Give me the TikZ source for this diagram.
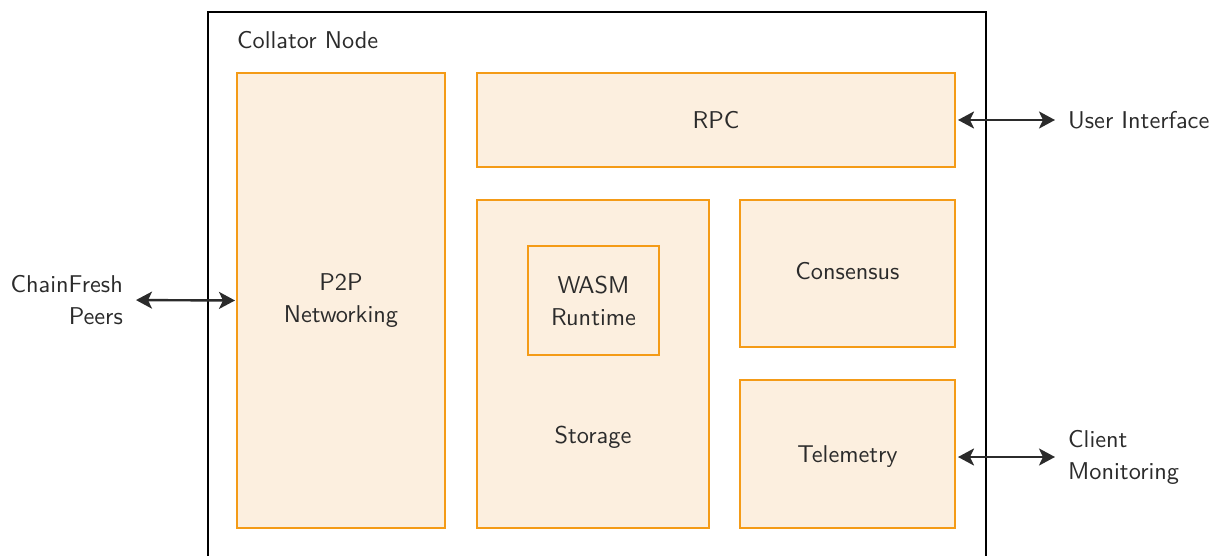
\documentclass[tikz,border=0pt]{standalone}
\usepackage{fontspec}
\newfontfamily\diagfont{lmsans10-regular.otf}
\usetikzlibrary{arrows.meta}
\definecolor{boxfill}{HTML}{FCEFDF}
\definecolor{boxline}{HTML}{F49B17}
\definecolor{ink}{HTML}{2B2B2B}
\begin{document}
\begin{tikzpicture}[x=1pt,y=-1pt,
  every node/.style={font=\diagfont\fontsize{24.3}{32}\selectfont, text=ink},
  part/.style={draw=boxline, fill=boxfill, line width=2pt, inner sep=0pt, align=center},
  caption/.style={inner sep=0pt, align=#1},
  link/.style={{Stealth[length=16pt,width=17pt,inset=4pt]}-{Stealth[length=16pt,width=17pt,inset=4pt]}, line width=2.4pt, draw=ink}
]
\useasboundingbox (0,0) rectangle (1218,556);

% enclosing collator node (runs past the lower edge)
\node[draw=black, line width=1.8pt, anchor=north west, minimum width=778pt, minimum height=600pt, inner sep=0pt] (collator) at (207,11) {};
\node[caption=left, anchor=west] (title) at (237,40) {Collator Node};

% components
\node[part, minimum width=208pt, minimum height=455pt] (p2p) at (341,300.5) {P2P\\Networking};
\node[part, minimum width=478pt, minimum height=94pt] (rpc) at (716,120) {RPC};
\node[part, minimum width=232pt, minimum height=328pt] (storage) at (593,364) {};
\node[caption=center] (storagetext) at (593,437) {Storage};
\node[part, minimum width=131pt, minimum height=109pt] (wasm) at (593.5,300.5) {WASM\\Runtime};
\node[part, minimum width=215pt, minimum height=147pt] (consensus) at (847.5,273.5) {};
\node[caption=center] (consensustext) at (847.5,271) {Consensus};
\node[part, minimum width=215pt, minimum height=148pt] (telemetry) at (847.5,454) {};
\node[caption=center] (telemetrytext) at (847.5,457) {Telemetry};

% external parties
\node[caption=right, anchor=east] (peers) at (123,300) {ChainFresh\\Peers};
\node[caption=left, anchor=west] (ui) at (1068,120) {User Interface};
\node[caption=left, anchor=west] (monitor) at (1068,457) {Client\\Monitoring};

% connections
\draw[link, shorten <=13pt, shorten >=1pt] (peers.east) -- (p2p.west);
\draw[link, shorten <=2pt, shorten >=13pt] (rpc.east) -- (rpc.east -| ui.west);
\draw[link, shorten <=2pt, shorten >=13pt] (telemetrytext.east -| telemetry.east) -- (monitor.west);
\end{tikzpicture}
\end{document}
